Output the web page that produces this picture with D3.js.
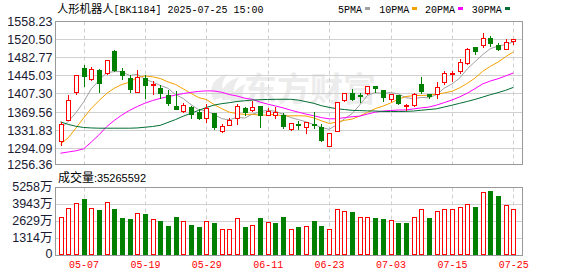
<!DOCTYPE html>
<html>
<head>
<meta charset="utf-8">
<script src="https://cdn.jsdelivr.net/npm/d3@7"></script>
<style>
  html, body { margin: 0; padding: 0; background: #fff; }
  svg { display: block; }
</style>
</head>
<body>
<svg id="chart" width="578" height="276"></svg>
<script>
// ---- data ----
const dates = [
  "2025-04-29","2025-04-30","2025-05-06","2025-05-07","2025-05-08","2025-05-09","2025-05-12","2025-05-13",
  "2025-05-14","2025-05-15","2025-05-16","2025-05-19","2025-05-20","2025-05-21","2025-05-22","2025-05-23",
  "2025-05-26","2025-05-27","2025-05-28","2025-05-29","2025-05-30","2025-06-03","2025-06-04","2025-06-05",
  "2025-06-06","2025-06-09","2025-06-10","2025-06-11","2025-06-12","2025-06-13","2025-06-16","2025-06-17",
  "2025-06-18","2025-06-19","2025-06-20","2025-06-23","2025-06-24","2025-06-25","2025-06-26","2025-06-27",
  "2025-06-30","2025-07-01","2025-07-02","2025-07-03","2025-07-04","2025-07-07","2025-07-08","2025-07-09",
  "2025-07-10","2025-07-11","2025-07-14","2025-07-15","2025-07-16","2025-07-17","2025-07-18","2025-07-21",
  "2025-07-22","2025-07-23","2025-07-24","2025-07-25"
];
const opens = [
  1309,1353,1412,1461,1439,1456,1450,1496,1455,1440,1412,1440,1426,1419,1404,1383,
  1372,1381,1369,1358,1367,1331,1343,1357,1379,1373,1382,1364,1364,1364,1334,1345,
  1338,1344,1338,1298,1331,1394,1409,1404,1409,1423,1415,1397,1404,1382,1385,1428,
  1408,1407,1431,1449,1455,1471,1504,1509,1523,1508,1501,1518
];
const highs = [
  1349,1404,1447,1468,1464,1460,1478,1498,1461,1446,1457,1446,1434,1426,1416,1414,
  1388,1382,1376,1386,1368,1345,1358,1386,1380,1392,1383,1378,1381,1367,1347,1350,
  1349,1369,1345,1325,1390,1409,1417,1409,1423,1423,1415,1408,1406,1386,1409,1442,
  1408,1433,1455,1455,1480,1502,1504,1534,1527,1513,1522,1522
];
const lows = [
  1301,1352,1408,1424,1436,1412,1449,1454,1439,1412,1412,1399,1407,1399,1385,1375,
  1370,1357,1356,1349,1335,1329,1342,1345,1364,1371,1338,1363,1357,1336,1332,1334,
  1326,1336,1309,1298,1331,1392,1395,1390,1407,1411,1392,1393,1386,1374,1383,1409,
  1399,1399,1428,1435,1451,1469,1490,1505,1506,1498,1500,1511
];
const closes = [
  1344,1394,1446,1445,1460,1429,1477,1457,1446,1418,1442,1426,1428,1410,1389,1376,
  1385,1365,1357,1378,1339,1340,1353,1383,1370,1380,1364,1371,1370,1340,1346,1342,
  1348,1342,1311,1325,1390,1409,1397,1402,1423,1419,1400,1407,1388,1384,1407,1414,
  1403,1422,1450,1451,1473,1500,1497,1523,1513,1501,1516,1522
];
// volume, unit: 万
const volumes = [
  2912,3608,3995,4330,3608,3480,4072,3557,2835,2784,3222,3145,2758,2629,2242,2912,
  2603,2320,2165,2603,2474,1985,1985,2835,2165,2294,2861,2526,2474,2938,1985,2165,
  2216,2629,2242,2010,3531,3376,3325,2912,2912,2861,2784,2706,2474,2474,2912,3531,
  2861,3376,3531,3531,3686,3918,3712,4845,4949,4562,3840,3526.5592
];
const ma5 = [
  1334,1350,1368,1390,1417.8,1434.8,1451.4,1453.6,1453.8,1445.4,1448,1437.8,1432,1424.8,1419,1405.8,
  1397.6,1385,1374.4,1372.2,1364.8,1355.8,1353.4,1358.6,1357,1365.2,1370,1373.6,1371,1365,1358.2,1353.8,
  1349.2,1343.6,1337.8,1333.6,1343.2,1355.4,1366.4,1384.6,1404.2,1410,1408.2,1410.2,1407.4,1399.6,1397.2,1400,
  1399.2,1406,1419.2,1428,1439.8,1459.2,1474.2,1488.8,1501.2,1506.8,1510,1515
];
const ma10 = [
  1303,1316,1336,1357,1377,1393,1408,1419,1427,1431.6,1441.4,1444.6,1442.8,1439.3,1432.2,1426.9,
  1417.7,1408.5,1399.6,1395.6,1385.3,1376.7,1369.2,1366.5,1364.6,1365,1362.9,1363.5,1364.8,1361,1361.7,1361.9,
  1361.4,1357.3,1351.4,1345.9,1348.5,1352.3,1355,1361.2,1368.9,1376.6,1381.8,1388.3,1396,1401.9,1403.6,1404.1,
  1404.7,1406.7,1409.4,1412.6,1419.9,1429.2,1440.1,1454,1464.6,1473.3,1484.6,1494.6
];
const ma20 = [
  1284,1286.5,1289,1293,1307,1322,1339,1352,1363.5,1373,1381,1388,1393.5,1398,1401.5,1405,
  1408,1410.5,1412.5,1413.6,1413.4,1410.7,1406,1402.9,1398.4,1396,1390.3,1386,1382.2,1378.3,1373.5,1369.3,
  1365.3,1361.9,1358,1355.5,1355.7,1357.9,1359.9,1361.1,1365.3,1369.3,1371.6,1372.8,1373.7,1373.9,1376.1,1378.2,
  1379.9,1384,1389.2,1394.6,1400.9,1408.8,1418.1,1428,1434.1,1438.7,1444.7,1450.7
];
const ma30 = [
  1349,1344,1340,1337.5,1336.5,1336,1336,1336,1336,1336,1336.5,1338,1339.5,1342,1348,1354,
  1361,1367,1373,1379,1384,1387,1389,1391.5,1393,1394.5,1395.2,1395.7,1396,1396.1,1396.1,1394.4,
  1391.1,1387.7,1382.7,1379.3,1376.4,1374.8,1373.1,1372.6,1372,1371.7,1370.8,1370.7,1370.7,1370.9,1371.7,1373.3,
  1374.8,1376.3,1380,1383.7,1387.7,1391.6,1395.8,1400.6,1405.6,1409.9,1414.8,1420.8
];
const priceTicks = [1558.23, 1520.50, 1482.77, 1445.03, 1407.30, 1369.56, 1331.83, 1294.09, 1256.36];
const volumeTicks = [0, 1314, 2629, 3943, 5258];
const dateTicks = ["2025-05-07","2025-05-19","2025-05-29","2025-06-11","2025-06-23","2025-07-03","2025-07-15","2025-07-25"];
const maNames = ["5PMA", "10PMA", "20PMA", "30PMA"];
const title = "人形机器人[BK1184] 2025-07-25 15:00";
const lastVolumeRaw = 35265592;

// ---- styles ----
const RED = "#ff0000", GREEN = "#008000";
const maColors = ["#a0a0a0", "#f5a000", "#ff00ff", "#006e32"];
const CJK = "'Noto Sans CJK SC', sans-serif";
const MONO = "'Liberation Mono', 'DejaVu Sans Mono', monospace";
const SANS = "'Liberation Sans', Arial, sans-serif";

// ---- layout ----
const L = 55.5, R = 522.5;
const pTop = 21.5, pBot = 164.5;
const vTop = 187.5, vBot = 255.5;

const svg = d3.select("#chart");
svg.append("rect").attr("width", 578).attr("height", 276).attr("fill", "#fff");

const x = d3.scalePoint().domain(dates).range([60.5, 513.3]);
const y = d3.scaleLinear().domain([1256.36, 1558.23]).range([166.5, 21.3]);
const yv = d3.scaleLinear().domain([0, 5258]).range([255, 187]);

const px = d => Math.round(x(d));
const crisp = v => Math.round(v) + 0.5;

// watermark: swoosh logo + brand name
const wm = svg.append("g").attr("fill", "#ececec");
wm.append("path").attr("d",
  "M214,100 C208,90 212,78 228,74 C222,80 220,88 226,96 Z " +
  "M222,100 C220,90 226,80 240,77 C234,83 232,92 236,99 Z " +
  "M230,101 C232,93 238,86 246,84 C242,90 242,96 244,101 Z");
wm.append("text")
  .attr("x", 244).attr("y", 101)
  .attr("font-family", CJK).attr("font-weight", 700).attr("font-size", 33)
  .text("东方财富");

// grid
const grid = svg.append("g").attr("stroke", "#d0d0d0").attr("stroke-width", 1).attr("fill", "none");
priceTicks.slice(1, -1).forEach(t => {
  grid.append("line").attr("x1", L).attr("x2", R).attr("y1", crisp(y(t) - 0.5)).attr("y2", crisp(y(t) - 0.5));
});
volumeTicks.slice(1, -1).forEach(t => {
  grid.append("line").attr("x1", L).attr("x2", R).attr("y1", crisp(yv(t) - 0.5)).attr("y2", crisp(yv(t) - 0.5));
});
dateTicks.forEach(d => {
  const xx = px(d) + 0.5;
  grid.append("line").attr("x1", xx).attr("x2", xx).attr("y1", pTop).attr("y2", pBot).attr("stroke-dasharray", "4,3");
  grid.append("line").attr("x1", xx).attr("x2", xx).attr("y1", vTop).attr("y2", vBot).attr("stroke-dasharray", "4,3");
});

// frames
svg.append("rect").attr("x", L).attr("y", pTop).attr("width", R - L).attr("height", pBot - pTop)
  .attr("fill", "none").attr("stroke", "#999");
svg.append("rect").attr("x", L).attr("y", vTop).attr("width", R - L).attr("height", vBot - vTop)
  .attr("fill", "none").attr("stroke", "#999");

// clip for price panel
svg.append("clipPath").attr("id", "pclip").append("rect")
  .attr("x", L).attr("y", pTop).attr("width", R - L).attr("height", pBot - pTop);

const bars = dates.map((d, i) => ({
  d, o: opens[i], h: highs[i], l: lows[i], c: closes[i], v: volumes[i],
  up: closes[i] >= opens[i],
  volUp: i === 0 ? closes[i] >= opens[i] : closes[i] >= closes[i - 1]
}));

// moving averages
const maG = svg.append("g").attr("clip-path", "url(#pclip)");
[ma5, ma10, ma20, ma30].forEach((series, k) => {
  const line = d3.line().x((v, i) => x(dates[i])).y(v => y(v));
  maG.append("path").datum(series)
    .attr("d", line).attr("fill", "none")
    .attr("stroke", maColors[k]).attr("stroke-width", 1);
});

// candlesticks
const candles = svg.append("g").attr("clip-path", "url(#pclip)");
bars.forEach(b => {
  const cx = px(b.d);
  const col = b.up ? RED : GREEN;
  candles.append("line")
    .attr("x1", cx + 0.5).attr("x2", cx + 0.5)
    .attr("y1", Math.round(y(b.h))).attr("y2", Math.round(y(b.l)) + 1)
    .attr("stroke", col);
  const top = Math.round(y(Math.max(b.o, b.c)));
  const bot = Math.round(y(Math.min(b.o, b.c)));
  if (b.up) {
    candles.append("rect")
      .attr("x", cx - 1.5).attr("y", top + 0.5)
      .attr("width", 4).attr("height", Math.max(1, bot - top))
      .attr("fill", "#fff").attr("stroke", col);
  } else {
    candles.append("rect")
      .attr("x", cx - 2).attr("y", top)
      .attr("width", 5).attr("height", Math.max(1, bot - top + 1))
      .attr("fill", col);
  }
});

// volume bars
const vg = svg.append("g");
bars.forEach(b => {
  const cx = px(b.d);
  const top = Math.round(yv(b.v));
  if (b.volUp) {
    vg.append("rect")
      .attr("x", cx - 1.5).attr("y", top + 0.5)
      .attr("width", 4).attr("height", Math.max(1, 255 - top - 1))
      .attr("fill", "#fff").attr("stroke", RED);
  } else {
    vg.append("rect")
      .attr("x", cx - 2).attr("y", top)
      .attr("width", 5).attr("height", 255 - top)
      .attr("fill", GREEN);
  }
});

// axes
const yAxis = svg.append("g").attr("transform", `translate(${L},0)`)
  .call(d3.axisLeft(y).tickValues(priceTicks).tickSize(0).tickPadding(3).tickFormat(d => d.toFixed(2)));
yAxis.select(".domain").remove();
yAxis.selectAll("text").attr("font-family", SANS).attr("font-size", 12.5).attr("fill", "#1a1a33");
yAxis.selectAll(".tick").filter(d => d === 1256.36).attr("transform", "translate(0,165)");

const vAxis = svg.append("g").attr("transform", `translate(${L},0)`)
  .call(d3.axisLeft(yv).tickValues(volumeTicks).tickSize(0).tickPadding(3)
    .tickFormat(d => d === 0 ? "0" : d + "万"));
vAxis.select(".domain").remove();
vAxis.selectAll("text").attr("font-family", `'Liberation Sans', 'Noto Sans CJK SC', sans-serif`)
  .attr("font-size", 12.5).attr("fill", "#1a1a33");
vAxis.selectAll(".tick").each(function (d) {
  d3.select(this).attr("transform", `translate(0,${yv(d) - (d === 0 ? 1.5 : 0.5)})`);
});

const xAxis = svg.append("g").attr("transform", "translate(0,258)")
  .call(d3.axisBottom(x).tickValues(dateTicks).tickSize(0).tickPadding(3).tickFormat(d => d.slice(5)));
xAxis.select(".domain").remove();
xAxis.selectAll("text").attr("font-family", MONO).attr("font-size", 10).attr("fill", RED);

// title
const tt = svg.append("text").attr("x", 57).attr("y", 13).attr("fill", "#000");
tt.append("tspan").attr("font-family", CJK).attr("font-size", 11.3).text(title.slice(0, 5));
tt.append("tspan").attr("font-family", MONO).attr("font-size", 10).text(title.slice(5));

// legend
const legendX = [338, 379.3, 425, 471.7];
maNames.forEach((n, k) => {
  svg.append("text").attr("x", legendX[k]).attr("y", 12.5)
    .attr("font-family", MONO).attr("font-size", 10).attr("fill", "#000").text(n);
  const w = n.length * 6;
  svg.append("rect").attr("x", Math.round(legendX[k] + w + 3)).attr("y", 7)
    .attr("width", 5).attr("height", 3).attr("fill", maColors[k]);
});

// volume caption
const vc = svg.append("text").attr("x", 58).attr("y", 182).attr("fill", "#000");
vc.append("tspan").attr("font-family", CJK).attr("font-size", 12).text("成交量");
vc.append("tspan").attr("font-family", SANS).attr("font-size", 11).text(":" + lastVolumeRaw);
</script>
</body>
</html>
